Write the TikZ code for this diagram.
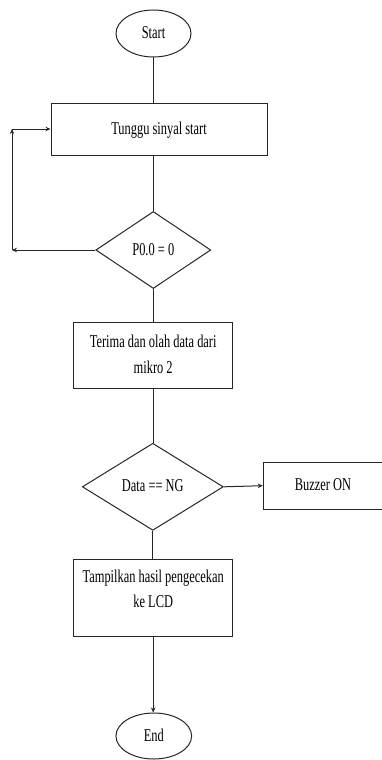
\documentclass[tikz,border=0pt]{standalone}
\usepackage{fontspec}
\usepackage{graphicx}
\setmainfont{Liberation Serif}
\usetikzlibrary{shapes.geometric,arrows.meta}
\newcommand{\sqtext}[1]{\scalebox{0.69}[1]{\begin{tabular}{@{}c@{}}#1\end{tabular}}}
\begin{document}
\begin{tikzpicture}[x=1pt,y=-1pt,
  every node/.style={font=\fontsize{18}{25.5}\selectfont, text=black},
  ln/.style={draw=black!85, line width=1pt},
  term/.style={ln, ellipse, inner sep=0pt},
  proc/.style={ln, rectangle, inner sep=0pt},
  dec/.style={ln, diamond, inner sep=0pt},
  conn/.style={draw=black!85, line width=1pt},
  arr/.style={conn, -{Stealth[length=5pt,width=4.5pt]}}]
\useasboundingbox (0,0) rectangle (382,760);
\node[term, minimum width=75pt, minimum height=47pt] (start) at (153.5,33.5) {\sqtext{Start}};
\node[proc, minimum width=216pt, minimum height=52pt] (tunggu) at (159,129) {\sqtext{Tunggu sinyal start}};
\node[dec, minimum width=115pt, minimum height=77pt] (p00) at (153.3,250) {\sqtext{P0.0 = 0}};
\node[proc, minimum width=159pt, minimum height=65.6pt] (terima) at (153.2,355.5) {\sqtext{Terima dan olah data dari\\mikro 2}};
\node[dec, minimum width=141pt, minimum height=78.3pt] (data) at (152.8,486.8) {\sqtext{Data == NG}};
\node[proc, minimum width=119.2pt, minimum height=46.7pt] (buzzer) at (322.9,485.7) {\sqtext{Buzzer ON}};
\node[proc, minimum width=159pt, minimum height=77.4pt] (tamp) at (153.2,598) {};
\node[inner sep=0pt] (tamptext) at (153.2,590) {\sqtext{Tampilkan hasil pengecekan\\ke LCD}};
\node[term, minimum width=75.7pt, minimum height=46pt] (end) at (153.8,736) {\sqtext{End}};
\coordinate (lb) at (12,250);
\coordinate (lt) at (12,129);
\draw[conn] (start.south) -- (start.south |- tunggu.north);
\draw[conn] (p00.north |- tunggu.south) -- (p00.north);
\draw[conn] (p00.south) -- (p00.south |- terima.north);
\draw[conn] (terima.south) -- (terima.south |- data.north);
\draw[conn] (data.south) -- (data.south |- tamp.north);
\draw[arr] (data.east) -- (buzzer.west);
\draw[arr] (tamp.south) -- (tamp.south |- end.north);
\draw[arr] (p00.west) -- (lb);
\draw[arr] (lb) -- (lt);
\draw[arr] (lt) -- (tunggu.west);
\end{tikzpicture}
\end{document}
